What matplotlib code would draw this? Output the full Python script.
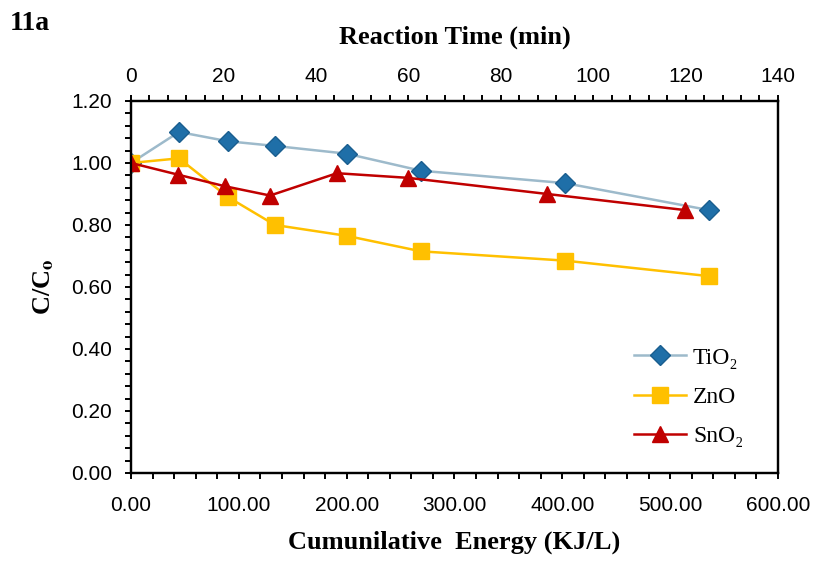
import matplotlib.pyplot as plt
from matplotlib.ticker import MultipleLocator, FormatStrFormatter

# cumulative energy (KJ/L) and C/Co
tio2_x = [0, 44.5, 90, 133.5, 200, 269, 402.5, 536]
tio2_y = [1.00, 1.10, 1.07, 1.055, 1.03, 0.975, 0.935, 0.848]
zno_x = [0, 44.5, 90, 133.5, 200, 269, 402.5, 536]
zno_y = [1.00, 1.015, 0.89, 0.80, 0.765, 0.715, 0.685, 0.635]
sno2_x = [0, 44, 87, 129, 191, 257, 386, 514]
sno2_y = [1.00, 0.962, 0.925, 0.895, 0.967, 0.952, 0.90, 0.848]

sans = ['Liberation Sans', 'DejaVu Sans']
serif = ['Liberation Serif', 'DejaVu Serif']
plt.rcParams['mathtext.fontset'] = 'stix'

fig = plt.figure(figsize=(8.13, 5.61), dpi=100)
ax = fig.add_axes([0.1611, 0.1569, 0.7958, 0.6631])

ax.plot(tio2_x, tio2_y, color='#9DBACB', lw=1.8, marker='D', ms=10,
        mfc='#1F6FA8', mec='#1A5E8F', mew=1, label='TiO₂', zorder=3)
ax.plot(zno_x, zno_y, color='#FFC000', lw=1.8, marker='s', ms=12,
        mfc='#FFC000', mec='#FFC000', label='ZnO', zorder=4)
ax.plot(sno2_x, sno2_y, color='#C00000', lw=1.8, marker='^', ms=12,
        mfc='#C00000', mec='#C00000', label='SnO₂', zorder=5)

ax.set_xlim(0, 600)
ax.set_ylim(0, 1.2)
ax.xaxis.set_major_locator(MultipleLocator(100))
ax.xaxis.set_minor_locator(MultipleLocator(20))
ax.yaxis.set_major_locator(MultipleLocator(0.2))
ax.yaxis.set_minor_locator(MultipleLocator(0.04))
ax.xaxis.set_major_formatter(FormatStrFormatter('%.2f'))
ax.yaxis.set_major_formatter(FormatStrFormatter('%.2f'))
ax.tick_params(which='both', direction='out', length=4.5, width=1.4, labelsize=15)
ax.tick_params(axis='x', which='major', pad=12)
ax.tick_params(axis='y', which='major', pad=9)
for lab in ax.get_xticklabels() + ax.get_yticklabels():
    lab.set_family(sans)
for s in ax.spines.values():
    s.set_linewidth(1.6)

ax.set_xlabel('Cumunilative  Energy (KJ/L)', family=serif, fontsize=19,
              fontweight='bold', labelpad=11)
ax.set_ylabel(r'C/C$_\mathbf{o}$', family=serif, fontsize=19,
              fontweight='bold', labelpad=11)

top = ax.twiny()
top.set_xlim(0, 140)
top.xaxis.set_major_locator(MultipleLocator(20))
top.xaxis.set_minor_locator(MultipleLocator(4))
top.tick_params(which='both', direction='out', length=4.5, width=1.4, labelsize=15)
top.tick_params(which='major', pad=6)
for lab in top.get_xticklabels():
    lab.set_family(sans)
for s in top.spines.values():
    s.set_linewidth(1.6)
top.set_xlabel('Reaction Time (min)', family=serif, fontsize=19,
               fontweight='bold', labelpad=17)

leg = ax.legend(loc='upper left', bbox_to_anchor=(634 / 813, 1 - 347 / 561),
                bbox_transform=fig.transFigure, frameon=False, borderpad=0,
                borderaxespad=0, prop={'family': serif, 'size': 17},
                handlelength=2.2, labelspacing=0.75, handletextpad=0.3)

fig.text(10 / 813, 1 - 30 / 561, '11a', family=serif, fontsize=20,
         fontweight='bold', va='baseline')

fig.savefig('out.png', dpi=100)
